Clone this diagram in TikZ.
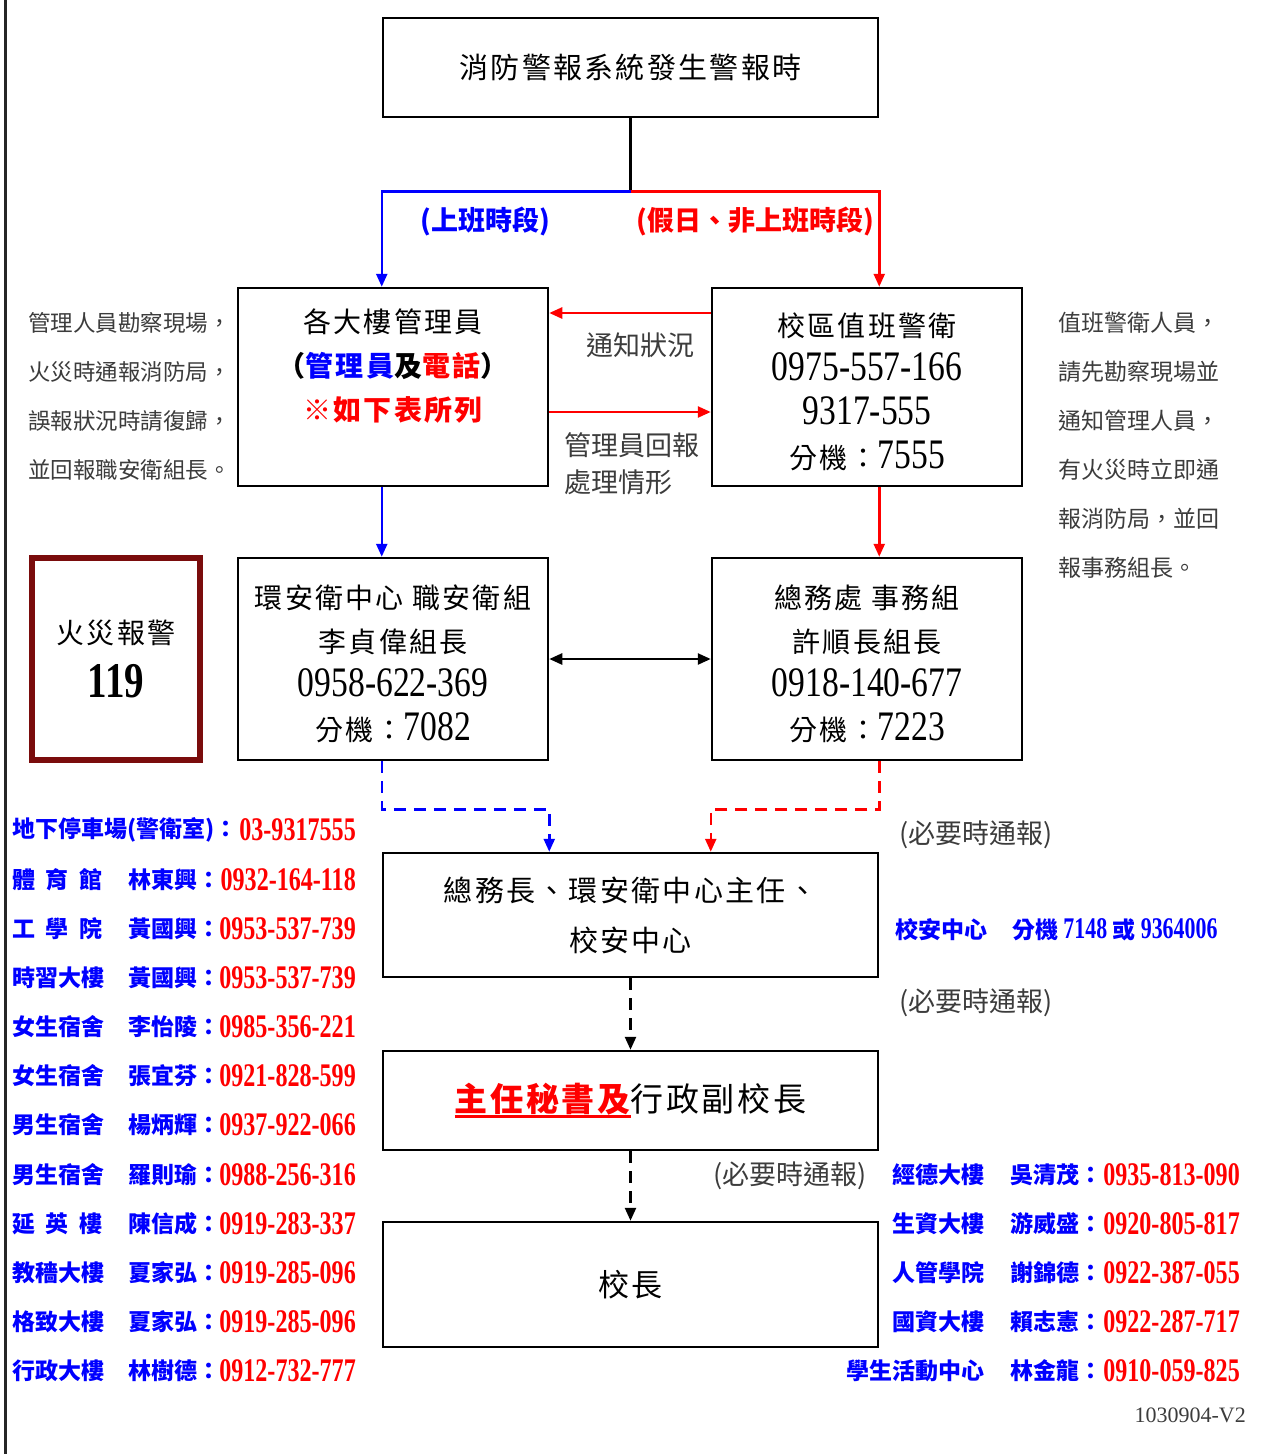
\documentclass[tikz,border=0pt]{standalone}
\usepackage{fontspec}
\usepackage{graphicx}
\usetikzlibrary{arrows.meta}
\setmainfont{Noto Sans CJK TC}
\newfontfamily\boxf[LetterSpace=8]{Noto Sans CJK TC}
\newfontfamily\numf{Liberation Serif}
\definecolor{myblue}{RGB}{0,0,255}
\definecolor{myred}{RGB}{255,0,0}
\definecolor{darkred}{RGB}{122,12,12}
\definecolor{note}{RGB}{60,60,60}
\newcommand\bnum[1]{{\fontsize{42}{44}\selectfont\scalebox{0.8}[1]{\numf #1}}}
\newcommand\lnum[1]{\textcolor{myred}{\fontsize{33}{33}\selectfont\scalebox{0.73}[1]{\numf\bfseries #1}}}
\newcommand\snum[1]{{\fontsize{30}{30}\selectfont\scalebox{0.73}[1]{\numf\bfseries #1}}}
\newcommand\myul[1]{\setbox0\hbox{#1}\rlap{\raisebox{-6pt}{\rule{\wd0}{2.5pt}}}\box0}
\newcommand\spreadname[1]{\makebox[90pt][s]{#1}}
\newcommand\tallstart{\rule{0pt}{34pt}}
\tikzset{
  box/.style={draw, line width=2.5pt, inner sep=0pt, align=center,
    font=\boxf\fontsize{28}{44}\selectfont},
  bluearrow/.style={draw=myblue, line width=2.5pt, -{Triangle[length=13pt,width=11pt]}},
  redarrow/.style={draw=myred, line width=2.5pt, -{Triangle[length=13pt,width=11pt]}},
  blackarrow/.style={draw=black, line width=2.5pt, {Triangle[length=13pt,width=11pt]}-{Triangle[length=13pt,width=11pt]}},
  bluedash/.style={bluearrow, dash pattern=on 12pt off 8pt},
  reddash/.style={redarrow, dash pattern=on 12pt off 8pt},
  blackdash/.style={draw=black, line width=2.5pt, dash pattern=on 12pt off 8pt, -{Triangle[length=13pt,width=11pt]}},
  notetxt/.style={inner sep=0pt, text=note, align=left, font=\fontsize{22.5}{49}\selectfont},
  midtxt/.style={inner sep=0pt, text=note, align=left, font=\fontsize{27}{37}\selectfont},
  listtxt/.style={inner sep=0pt, text=myblue, font=\fontsize{23}{23}\selectfont\bfseries},
}
\newcommand\lrow[5]{%
  \node[listtxt,anchor=west] (lb#1) at (12,#2) {#3};
  \node[listtxt,anchor=west] (ln#1) at (128,#2) {#4};
  \node[inner sep=0pt,anchor=east] (lp#1) at (356,#2) {\lnum{#5}};}
\newcommand\rrow[5]{%
  \node[listtxt,anchor=east] (rb#1) at (985,#2) {#3};
  \node[listtxt,anchor=west] (rn#1) at (1010,#2) {#4};
  \node[inner sep=0pt,anchor=east] (rp#1) at (1240,#2) {\lnum{#5}};}
\begin{document}
\begin{tikzpicture}[x=1pt,y=-1pt]
\useasboundingbox[fill=white] (0,0) rectangle (1261,1454);
\draw[line width=3pt, black!85] (5,0) -- (5,1454);

% boxes
\node[box, minimum width=495pt, minimum height=99pt, font=\boxf\fontsize{29}{44}\selectfont] (top) at (630.5,67.5) {消防警報系統發生警報時};
\node[box, minimum width=310pt, minimum height=198pt] (A) at (393,387)
  {各大樓管理員\\{\bfseries （\textcolor{myblue}{管理員}及\textcolor{myred}{電話}）}\\\textcolor{myred}{\bfseries ※如下表所列}\\\mbox{}};
\node[box, minimum width=310pt, minimum height=198pt] (B) at (867,387)
  {\tallstart 校區值班警衛\\\bnum{0975-557-166}\\\bnum{9317-555}\\分機：\bnum{7555}};
\node[box, minimum width=310pt, minimum height=202pt] (C) at (393,659)
  {\tallstart 環安衛中心 職安衛組\\李貞偉組長\\\bnum{0958-622-369}\\分機：\bnum{7082}};
\node[box, minimum width=310pt, minimum height=202pt] (D) at (867,659)
  {\tallstart 總務處 事務組\\許順長組長\\\bnum{0918-140-677}\\分機：\bnum{7223}};
\node[box, draw=darkred, line width=6pt, minimum width=168pt, minimum height=202pt,
  font=\boxf\fontsize{28}{54}\selectfont] (f119) at (116,659)
  {火災報警\\{\fontsize{50}{50}\selectfont\scalebox{0.78}[1]{\numf\bfseries 119}}};
\node[box, minimum width=495pt, minimum height=124pt, font=\boxf\fontsize{29}{50}\selectfont] (E) at (630.5,915)
  {總務長、環安衛中心主任、\\校安中心};
\node[box, minimum width=495pt, minimum height=99pt, font=\boxf\fontsize{33}{44}\selectfont] (F) at (630.5,1100.5)
  {\textcolor{myred}{\bfseries\myul{主任秘書及}}行政副校長};
\node[box, minimum width=495pt, minimum height=125pt, font=\boxf\fontsize{31}{44}\selectfont] (G) at (630.5,1284.5) {校長};

% connectors
\draw[line width=2.5pt] (top.south) -- ++(0,73) coordinate (split);
\draw[bluearrow] (split) -| (top.west |- A.north);
\draw[redarrow] (split) -| (top.east |- B.north);
\draw[redarrow] ([yshift=74pt]B.west) -- ([yshift=74pt]A.east);
\draw[redarrow] ([yshift=-25pt]A.east) -- ([yshift=-25pt]B.west);
\draw[bluearrow] (top.west |- A.south) -- (top.west |- C.north);
\draw[redarrow] (top.east |- B.south) -- (top.east |- D.north);
\draw[blackarrow] (C.east) -- (D.west);
\draw[bluedash] (top.west |- C.south) -- ++(0,48) -| (C.east |- E.north);
\draw[reddash] (top.east |- D.south) -- ++(0,48) -| (D.west |- E.north);
\draw[blackdash] (E.south) -- (F.north);
\draw[blackdash] (F.south) -- (G.north);

% labels
\node[inner sep=0pt, text=myblue, font=\fontsize{27}{27}\selectfont\bfseries] (lab1) at (485,222) {(上班時段)};
\node[inner sep=0pt, text=myred, font=\fontsize{27}{27}\selectfont\bfseries] (lab2) at (755,222) {(假日、非上班時段)};
\node[midtxt] (notify) at (640,345) {通知狀況};
\node[midtxt, anchor=west] (reply) at (564,463.5) {管理員回報\\處理情形};
\node[notetxt, anchor=west] (noteL) at (28,396.5) {管理人員勘察現場，\\火災時通報消防局，\\誤報狀況時請復歸，\\並回報職安衛組長。};
\node[notetxt, anchor=west, font=\fontsize{23}{49}\selectfont] (noteR) at (1058,445.5) {值班警衛人員，\\請先勘察現場並\\通知管理人員，\\有火災時立即通\\報消防局，並回\\報事務組長。};
\node[inner sep=0pt, text=note, font=\fontsize{27}{27}\selectfont] (nec1) at (976,835) {(必要時通報)};
\node[inner sep=0pt, text=note, font=\fontsize{27}{27}\selectfont] (nec2) at (976,1003) {(必要時通報)};
\node[inner sep=0pt, text=note, font=\fontsize{27}{27}\selectfont] (nec3) at (790,1176) {(必要時通報)};
\node[listtxt, anchor=west] (xiaoan) at (895,930) {校安中心\hspace{25pt}分機 \snum{7148} 或 \snum{9364006}};
\node[inner sep=0pt, anchor=east, text=note, font=\fontsize{22}{22}\selectfont\numf] (ver) at (1246,1415) {1030904-V2};

% left list
\node[listtxt, anchor=west] (lb1) at (12,830) {地下停車場(警衛室)：};
\node[inner sep=0pt, anchor=east] (lp1) at (356,830) {\lnum{03-9317555}};
\lrow{2}{880}{\spreadname{體\hfill 育\hfill 館}}{林東興：}{0932-164-118}
\lrow{3}{929}{\spreadname{工\hfill 學\hfill 院}}{黃國興：}{0953-537-739}
\lrow{4}{978}{時習大樓}{黃國興：}{0953-537-739}
\lrow{5}{1027}{女生宿舍}{李怡陵：}{0985-356-221}
\lrow{6}{1076}{女生宿舍}{張宜芬：}{0921-828-599}
\lrow{7}{1125}{男生宿舍}{楊炳輝：}{0937-922-066}
\lrow{8}{1175}{男生宿舍}{羅則瑜：}{0988-256-316}
\lrow{9}{1224}{\spreadname{延\hfill 英\hfill 樓}}{陳信成：}{0919-283-337}
\lrow{10}{1273}{教穡大樓}{夏家弘：}{0919-285-096}
\lrow{11}{1322}{格致大樓}{夏家弘：}{0919-285-096}
\lrow{12}{1371}{行政大樓}{林樹德：}{0912-732-777}

% right list
\rrow{1}{1175}{經德大樓}{吳清茂：}{0935-813-090}
\rrow{2}{1224}{生資大樓}{游威盛：}{0920-805-817}
\rrow{3}{1273}{人管學院}{謝錦德：}{0922-387-055}
\rrow{4}{1322}{國資大樓}{賴志憲：}{0922-287-717}
\rrow{5}{1371}{學生活動中心}{林金龍：}{0910-059-825}
\end{tikzpicture}
\end{document}
